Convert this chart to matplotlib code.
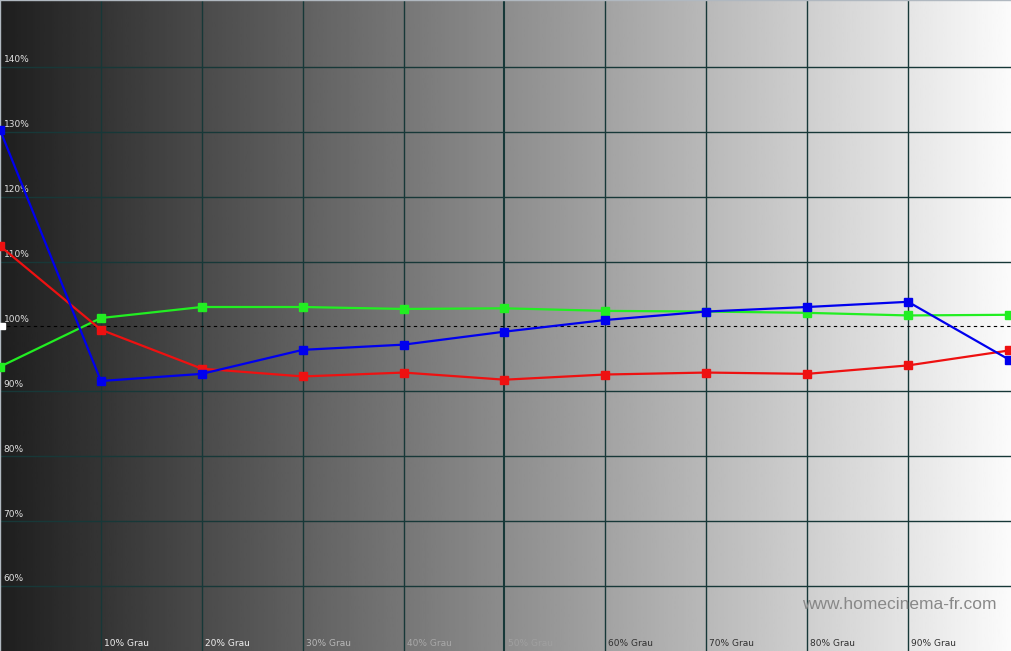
import numpy as np
import matplotlib
matplotlib.use("Agg")
import matplotlib.pyplot as plt

# Graustufen (0 = Schwarz ... 10 = 100% Weiss)
steps = list(range(11))
x_labels = ["10% Grau", "20% Grau", "30% Grau", "40% Grau", "50% Grau",
            "60% Grau", "70% Grau", "80% Grau", "90% Grau"]
y_ticks = [60, 70, 80, 90, 100, 110, 120, 130, 140]

red_vals = [112.4, 99.5, 93.5, 92.3, 92.9, 91.8, 92.6, 92.9, 92.7, 94.0, 96.3]
green_vals = [93.8, 101.3, 103.0, 103.0, 102.7, 102.8, 102.4, 102.3, 102.1, 101.7, 101.8]
blue_vals = [130.3, 91.6, 92.7, 96.4, 97.2, 99.2, 101.0, 102.3, 103.0, 103.8, 94.9]

fig = plt.figure(figsize=(10.11, 6.51), dpi=100)
ax = fig.add_axes([0, 0, 1, 1])
ax.set_xlim(0, 10.02)
ax.set_ylim(50, 150.3)

# Hintergrund: Verlauf von dunkel nach hell
grad = np.linspace(0.12, 0.985, 512).reshape(1, -1)
ax.imshow(grad, cmap="gray", vmin=0, vmax=1, aspect="auto",
          extent=[0, 10.02, 50, 150.3], zorder=0)

grid_col = "#173838"
for i in range(1, 10):
    ax.axvline(i, color=grid_col, lw=1.5 if i == 5 else 1.0, zorder=1)
for v in y_ticks:
    if v != 100:
        ax.axhline(v, color=grid_col, lw=1.0, zorder=1)
ax.axhline(100, color="black", lw=0.8, ls=(0, (3, 3)), zorder=1)

# Beschriftungen
for v in y_ticks:
    ax.text(0.035, v + 0.4, f"{v}%", color="#e0e0e0", fontsize=6.5,
            ha="left", va="bottom", zorder=2)
lab_cols = ["#f0f0f0", "#f0f0f0", "#b8b8b8", "#a8a8a8", "#a0a0a0",
            "#303030", "#303030", "#303030", "#303030"]
for i, (lab, c) in enumerate(zip(x_labels, lab_cols), start=1):
    ax.text(i + 0.03, 50.4, lab, color=c, fontsize=6.5,
            ha="left", va="bottom", zorder=2)

ax.text(9.88, 57.2, "www.homecinema-fr.com", color="#888888", fontsize=12.5,
        family="Liberation Sans", ha="right", va="center", zorder=2)

for vals, col in [(green_vals, "#22ee22"), (red_vals, "#ee1111"), (blue_vals, "#0000ee")]:
    ax.plot(steps, vals, color=col, lw=1.6, marker="s", ms=6,
            clip_on=False, zorder=3)

ax.plot([0.02], [100], marker="s", ms=4, color="white", clip_on=False, zorder=4)

ax.set_xticks([])
ax.set_yticks([])
for s in ax.spines.values():
    s.set_color("#b0b8c0")
    s.set_linewidth(1)
ax.spines["bottom"].set_visible(False)
ax.spines["right"].set_visible(False)

fig.savefig("out.png", dpi=100)
